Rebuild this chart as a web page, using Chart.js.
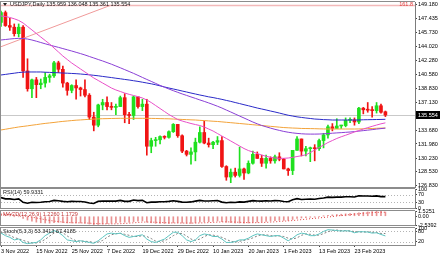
<!DOCTYPE html>
<html>
<head>
<meta charset="utf-8">
<script src="https://cdn.jsdelivr.net/npm/chart.js@4.4.1/dist/chart.umd.min.js"></script>
<style>
html,body{margin:0;padding:0;background:#fff;}
#wrap{position:relative;width:440px;height:254px;overflow:hidden;background:#fff}
#wrap canvas{position:absolute;left:0;top:0}
</style>
</head>
<body>
<div id="wrap">
<canvas id="cMain" width="440" height="254"></canvas>
<canvas id="cRsi" width="440" height="254"></canvas>
<canvas id="cMacd" width="440" height="254"></canvas>
<canvas id="cStoch" width="440" height="254"></canvas>
</div>
<script>
// ---------------- DATA ----------------
const symbolTitle = 'USDJPY,Daily 135.959 136.048 135.361 135.554';
const dateTickBars = [0, 8, 16, 24, 32, 40, 48, 56, 64, 72, 80];
const dateTickLabels = ['3 Nov 2022','15 Nov 2022','25 Nov 2022','7 Dec 2022','19 Dec 2022','29 Dec 2022','10 Jan 2023','20 Jan 2023','1 Feb 2023','13 Feb 2023','23 Feb 2023'];
const priceTicks = [149.180,147.435,145.730,144.020,142.280,140.580,138.830,137.130,133.680,131.980,130.230,128.530,126.830];
const lastPrice = 135.554;
const fibLevel = 149.08;
const fibLabel = '161.8';
const fibTrend = [{x:-0.2, y:143.95},{x:24.7, y:149.08}];

const open = [
147.0,148.2,146.6,146.4,145.6,146.4,141.0,138.8,139.9,139.3,
139.5,140.2,140.4,142.0,141.2,139.5,138.6,139.2,138.9,138.7,
138.0,135.3,134.3,136.8,137.1,136.6,136.5,136.6,137.7,135.6,
135.5,137.8,136.6,136.9,131.7,132.4,132.5,132.9,132.8,133.5,
134.4,133.0,131.1,130.7,131.0,132.2,133.4,132.1,131.9,132.2,
132.4,129.2,127.9,128.5,128.1,128.9,128.4,129.6,130.7,130.2,
129.6,130.2,129.9,130.4,130.1,128.9,128.7,131.2,132.6,131.1,
131.4,131.5,131.4,132.4,133.1,134.1,133.9,134.2,134.25,134.9,
134.95,134.7,136.4,136.2,136.15,136.1,136.7,135.959];
const high = [
148.4,148.4,147.5,146.8,146.8,146.6,142.5,140.0,140.2,140.0,
140.8,140.6,142.2,142.2,141.6,139.6,139.3,139.9,139.0,139.9,
138.2,135.9,136.9,137.5,137.8,137.1,136.9,137.9,138.2,135.9,
137.9,137.8,137.5,137.5,132.7,132.8,133.0,133.0,133.6,134.5,
134.4,133.1,131.2,131.5,132.7,134.1,134.8,132.7,132.3,132.9,
132.9,129.3,128.9,129.0,131.6,129.0,129.9,131.1,131.0,130.6,
130.6,130.4,130.6,130.9,130.2,129.0,131.2,132.9,132.6,131.7,
131.6,131.9,132.6,133.3,134.3,134.5,135.1,134.3,135.2,135.2,
135.2,136.5,136.5,137.1,136.6,137.1,136.9,136.048];
const low = [
146.5,146.5,146.0,145.3,145.2,140.2,138.5,137.7,137.7,138.8,
139.0,139.6,140.2,140.8,139.0,138.0,138.3,137.5,137.9,137.8,
135.0,133.6,134.1,136.2,136.2,136.2,135.6,136.6,134.6,134.5,
135.0,136.4,136.1,130.6,130.9,131.7,132.0,132.6,132.7,133.4,
132.8,130.9,130.5,129.5,129.9,132.1,132.0,131.6,131.4,131.9,
129.1,127.5,127.2,127.9,127.9,127.6,128.3,129.5,130.2,129.2,
129.0,129.6,129.6,129.9,128.9,128.1,128.2,131.2,130.5,130.5,
129.8,129.9,131.2,131.5,132.7,133.6,133.9,133.9,134.1,134.6,
134.3,134.5,135.7,135.9,135.3,135.8,135.8,135.361];
const close = [
148.2,146.6,146.4,145.6,146.4,141.0,138.8,139.9,139.3,139.5,
140.2,140.4,142.0,141.2,139.5,138.6,139.2,138.9,138.7,138.0,
135.3,134.3,136.8,137.1,136.6,136.5,136.6,137.7,135.6,135.5,
137.8,136.6,136.9,131.7,132.4,132.5,132.9,132.8,133.5,134.4,
133.0,131.1,130.7,131.0,132.2,133.4,132.1,131.9,132.2,132.4,
129.2,127.9,128.5,128.1,128.9,128.4,129.6,130.7,130.2,129.6,
130.2,129.9,130.4,130.1,128.9,128.7,131.2,132.6,131.1,131.4,
131.5,131.4,132.4,133.1,134.1,133.9,134.2,134.25,134.9,134.95,
134.7,136.4,136.2,136.15,136.1,136.7,135.9,135.554];

const ma20 = [
147.78,147.72,147.60,147.44,147.23,146.92,146.49,146.06,145.62,145.19,
144.76,144.33,143.83,143.34,142.84,142.41,141.98,141.61,141.24,140.87,
140.50,140.13,139.82,139.51,139.20,138.89,138.65,138.46,138.27,138.11,
137.97,137.82,137.66,137.41,137.10,136.73,136.36,135.99,135.62,135.31,
135.00,134.82,134.66,134.51,134.38,134.26,134.08,133.83,133.58,133.27,
132.96,132.66,132.35,132.04,131.73,131.42,131.17,130.99,130.80,130.62,
130.46,130.33,130.25,130.21,130.21,130.25,130.33,130.43,130.53,130.64,
130.92,131.24,131.54,131.85,132.16,132.41,132.66,132.87,133.06,133.26,
133.46,133.64,133.83,134.00,134.16,134.32,134.47,134.59];
const ma50 = [
144.82,144.88,144.94,144.99,145.02,145.00,144.94,144.82,144.67,144.51,
144.35,144.20,144.05,143.91,143.76,143.61,143.46,143.30,143.14,142.97,
142.78,142.60,142.41,142.23,142.03,141.83,141.61,141.39,141.16,140.93,
140.70,140.45,140.20,139.95,139.71,139.46,139.21,138.99,138.77,138.56,
138.36,138.16,137.98,137.79,137.61,137.42,137.24,137.05,136.85,136.64,
136.42,136.17,135.93,135.68,135.43,135.19,134.94,134.69,134.47,134.27,
134.10,133.94,133.79,133.66,133.53,133.43,133.35,133.29,133.24,133.21,
133.20,133.20,133.21,133.24,133.27,133.31,133.35,133.38,133.42,133.46,
133.51,133.57,133.63,133.69,133.75,133.82,133.88,133.94];
const ma100 = [
140.50,140.57,140.65,140.72,140.80,140.85,140.87,140.87,140.87,140.87,
140.84,140.82,140.79,140.77,140.74,140.72,140.69,140.66,140.62,140.57,
140.52,140.46,140.40,140.32,140.25,140.18,140.10,140.03,139.95,139.88,
139.79,139.71,139.61,139.51,139.41,139.29,139.16,139.02,138.89,138.77,
138.65,138.52,138.40,138.27,138.15,138.03,137.92,137.80,137.71,137.60,
137.49,137.36,137.24,137.10,136.97,136.83,136.70,136.56,136.42,136.30,
136.18,136.05,135.93,135.80,135.66,135.53,135.43,135.33,135.26,135.19,
135.13,135.06,135.03,134.99,134.97,134.94,134.94,134.94,134.94,134.94,
134.94,134.94,134.97,134.98,134.99,135.00,135.01,135.03];
const ma200 = [
133.71,133.80,133.90,133.99,134.08,134.15,134.22,134.30,134.37,134.45,
134.52,134.58,134.64,134.71,134.77,134.82,134.87,134.92,134.95,134.99,
135.03,135.05,135.08,135.10,135.11,135.13,135.14,135.15,135.15,135.15,
135.15,135.15,135.15,135.15,135.14,135.13,135.11,135.10,135.09,135.06,
135.04,135.01,134.99,134.96,134.94,134.90,134.87,134.83,134.79,134.76,
134.71,134.66,134.61,134.56,134.51,134.46,134.41,134.36,134.31,134.26,
134.21,134.16,134.11,134.06,134.01,133.98,133.95,133.93,133.90,133.89,
133.88,133.87,133.85,133.84,133.83,133.83,133.83,133.83,133.83,133.83,
133.83,133.84,133.85,133.88,133.89,133.92,133.94,133.95];

const rsi = [
55,48,48,45,48,30,25,30,29,30,
33,34,40,38,35,33,35,34,34,32,
26,24,35,37,36,36,36,40,35,35,
42,39,40,28,31,31,33,33,35,38,
35,31,30,32,36,40,37,37,38,39,
31,28,30,29,32,31,35,39,37,36,
38,37,39,38,34,33,43,49,45,46,
47,46,50,53,57,56,57,57,59,59,
58,64,63,63,62,64,60,59.93];
const rsiLevels = [30, 70];
const rsiTicks = [0, 30, 70, 100];

const macdMain = [
0.35,0.2,0.08,-0.1,-0.15,-0.6,-1.1,-1.4,-1.7,-1.9,
-1.95,-2.0,-1.85,-1.8,-1.85,-1.95,-1.95,-1.95,-1.95,-2.0,
-2.25,-2.5392,-2.4,-2.25,-2.15,-2.05,-1.95,-1.75,-1.75,-1.75,
-1.55,-1.45,-1.35,-1.7,-1.9,-2.05,-2.1,-2.1,-2.05,-1.9,
-1.85,-1.95,-2.05,-2.05,-1.9,-1.7,-1.65,-1.6,-1.5,-1.4,
-1.55,-1.75,-1.85,-1.95,-1.95,-2.0,-1.95,-1.8,-1.7,-1.65,
-1.5,-1.4,-1.3,-1.2,-1.2,-1.2,-0.95,-0.65,-0.5,-0.4,
-0.3,-0.25,-0.1,0.05,0.25,0.4,0.5,0.6,0.7,0.8,
0.85,1.0,1.15,1.25,1.38,1.5251,1.4,1.226];
const macdSignal = [
0.6,0.55,0.48,0.4,0.3,0.15,-0.05,-0.25,-0.5,-0.75,
-1.0,-1.2,-1.4,-1.55,-1.7,-1.8,-1.88,-1.9,-1.92,-1.95,
-2.0,-2.1,-2.15,-2.2,-2.22,-2.22,-2.2,-2.15,-2.08,-2.0,
-1.9,-1.8,-1.7,-1.68,-1.7,-1.75,-1.8,-1.85,-1.92,-1.95,
-1.96,-1.97,-1.98,-1.98,-1.97,-1.95,-1.9,-1.85,-1.78,-1.7,
-1.65,-1.63,-1.65,-1.7,-1.75,-1.8,-1.85,-1.87,-1.85,-1.82,
-1.77,-1.7,-1.62,-1.52,-1.42,-1.35,-1.25,-1.12,-0.98,-0.85,
-0.72,-0.6,-0.48,-0.35,-0.22,-0.08,0.08,0.22,0.35,0.48,
0.6,0.72,0.85,0.95,1.05,1.12,1.16,1.1729];
const macdTicks = [-2.5392, 0, 1.5251];

const stochK = [
70,55,45,30,35,15,8,12,15,30,
55,70,85,75,55,30,25,20,25,20,
15,10,25,45,65,70,65,70,55,45,
50,55,60,35,20,15,25,35,55,75,
75,55,30,20,30,55,65,60,50,50,
35,15,15,20,30,30,40,55,65,60,
55,50,55,55,40,25,40,60,70,65,
55,55,65,80,90,88,85,82,84,82,
72,78,78,76,70,72,62,53.3413];
const stochD = [
75,65,57,43,37,27,19,12,12,19,
33,52,70,77,72,53,37,25,23,22,
20,15,17,27,45,60,67,68,63,57,
50,50,55,50,38,23,20,25,38,55,
68,68,53,35,27,35,50,60,58,53,
45,33,22,17,22,27,33,42,53,60,
60,55,53,53,50,40,35,42,57,65,
63,58,58,67,78,86,88,85,84,83,
79,77,76,77,75,73,68,67.4185];
const stochLevels = [20, 80];
const stochTicks = [20, 80, 100];

// ---------------- LAYOUT / STYLE ----------------
const AXIS_W = 25;
const X_MIN = 0.0, X_MAX = 93.7;
const FONT = "'Liberation Sans', Arial, sans-serif";
const FS = 5.5;
const UP = '#1fe01f', DOWN = '#f01414';

Chart.defaults.font.family = FONT;
Chart.defaults.font.size = FS;
Chart.defaults.color = '#000';
Chart.defaults.animation = false;
Chart.defaults.events = [];
Chart.defaults.plugins.legend.display = false;
Chart.defaults.plugins.tooltip.enabled = false;

const pts = arr => arr.map((v, i) => ({x: i, y: v}));

function xHidden() {
  return {type: 'linear', min: X_MIN, max: X_MAX, offset: false, display: false};
}
function yAxis(min, max, ticks, fmt) {
  return {
    position: 'right', min: min, max: max,
    afterBuildTicks: s => { s.ticks = ticks.map(v => ({value: v})); },
    afterFit: s => { s.width = AXIS_W; s.paddingTop = 0; s.paddingBottom = 0; },
    ticks: {callback: fmt, autoSkip: false, padding: 1, font: {size: FS, family: FONT}, color: '#000'},
    grid: {drawOnChartArea: false, drawTicks: true, tickLength: 2, tickColor: '#444'},
    border: {display: true, color: '#7c7c7c', width: 1}
  };
}

const framePlugin = {
  id: 'frame',
  afterDraw(chart) {
    const {ctx, chartArea: a} = chart;
    ctx.save();
    ctx.strokeStyle = '#8c8c8c';
    ctx.lineWidth = 1;
    ctx.beginPath();
    ctx.moveTo(a.left - 0.5, Math.round(a.top) - 0.5);
    ctx.lineTo(a.right, Math.round(a.top) - 0.5);
    ctx.moveTo(a.left - 0.5, Math.round(a.bottom) + 0.5);
    ctx.lineTo(a.right, Math.round(a.bottom) + 0.5);
    ctx.moveTo(a.left - 0.5, a.top - 1);
    ctx.lineTo(a.left - 0.5, a.bottom + 1);
    ctx.stroke();
    ctx.restore();
  }
};

const levelPlugin = {
  id: 'levels',
  beforeDatasetsDraw(chart, args, o) {
    if (!o || !o.values) return;
    const {ctx, chartArea: a, scales: {y}} = chart;
    ctx.save();
    ctx.strokeStyle = o.color || '#aaa';
    ctx.lineWidth = 1;
    ctx.setLineDash(o.dash || [1, 2]);
    o.values.forEach(v => {
      const py = Math.round(y.getPixelForValue(v)) + 0.5;
      ctx.beginPath(); ctx.moveTo(a.left, py); ctx.lineTo(a.right, py); ctx.stroke();
    });
    ctx.restore();
  }
};

const textPlugin = {
  id: 'texts',
  afterDraw(chart, args, o) {
    if (!o || !o.items) return;
    const ctx = chart.ctx;
    ctx.save();
    o.items.forEach(t => {
      ctx.font = (t.size || FS) + 'px ' + FONT;
      ctx.fillStyle = t.color || '#000';
      ctx.textBaseline = 'middle';
      ctx.textAlign = t.align || 'left';
      ctx.fillText(t.text, t.x, t.y);
    });
    ctx.restore();
  }
};

const pricePlugin = {
  id: 'price',
  beforeDatasetsDraw(chart) {
    const {ctx, chartArea: a, scales: {y}} = chart;
    ctx.save();
    const fy = y.getPixelForValue(fibLevel);
    ctx.strokeStyle = '#f3b9b9'; ctx.lineWidth = 1.5;
    ctx.beginPath(); ctx.moveTo(a.left, fy); ctx.lineTo(a.right, fy); ctx.stroke();
    const py = Math.round(y.getPixelForValue(lastPrice)) + 0.5;
    ctx.strokeStyle = '#c9c9c9'; ctx.lineWidth = 1;
    ctx.beginPath(); ctx.moveTo(a.left, py); ctx.lineTo(a.right, py); ctx.stroke();
    ctx.restore();
  },
  afterDraw(chart) {
    const {ctx, chartArea: a, scales: {y}} = chart;
    ctx.save();
    const py = y.getPixelForValue(lastPrice);
    ctx.fillStyle = '#000';
    ctx.fillRect(a.right + 1, Math.round(py) - 4, 24, 8);
    ctx.fillStyle = '#fff';
    ctx.font = FS + 'px ' + FONT;
    ctx.textBaseline = 'middle';
    ctx.textAlign = 'left';
    ctx.fillText(lastPrice.toFixed(3), a.right + 3, py);
    ctx.fillStyle = '#e04040';
    ctx.textAlign = 'right';
    ctx.fillText(fibLabel, a.right - 2, y.getPixelForValue(fibLevel) - 1);
    ctx.fillStyle = '#222';
    ctx.beginPath(); ctx.moveTo(3, 3); ctx.lineTo(7, 3); ctx.lineTo(5, 6); ctx.closePath(); ctx.fill();
    ctx.restore();
  }
};

// ---------------- MAIN CHART ----------------
const idx = close.map((c, i) => i);
const candleColors = idx.map(i => close[i] >= open[i] ? UP : DOWN);

new Chart(document.getElementById('cMain'), {
  type: 'bar',
  data: {
    datasets: [
      {type: 'line', data: pts(ma20), borderColor: '#e84fc8', borderWidth: 1, pointRadius: 0, tension: 0, order: 1},
      {type: 'line', data: pts(ma50), borderColor: '#8a3fd6', borderWidth: 1, pointRadius: 0, tension: 0, order: 1},
      {type: 'line', data: pts(ma100), borderColor: '#2a2ac8', borderWidth: 1, pointRadius: 0, tension: 0, order: 1},
      {type: 'line', data: pts(ma200), borderColor: '#f3a33a', borderWidth: 1, pointRadius: 0, tension: 0, order: 1},
      {type: 'line', data: fibTrend, borderColor: '#f09a9a', borderWidth: 1, pointRadius: 0, tension: 0, order: 2},
      {type: 'bar', data: idx.map(i => ({x: i, y: [open[i], close[i]]})), backgroundColor: candleColors,
        barThickness: 3, minBarLength: 1, grouped: false, borderWidth: 0, order: 3},
      {type: 'bar', data: idx.map(i => ({x: i, y: [low[i], high[i]]})), backgroundColor: candleColors,
        barThickness: 1, grouped: false, borderWidth: 0, order: 4}
    ]
  },
  options: {
    responsive: false, devicePixelRatio: 1,
    layout: {padding: {left: 1, top: 2, right: 0, bottom: 254 - 187}},
    scales: {
      x: xHidden(),
      y: yAxis(126.67, 149.51, priceTicks, v => Number(v).toFixed(3))
    },
    plugins: {
      texts: {items: [{text: symbolTitle, x: 10, y: 4.5, color: '#111'}]}
    }
  },
  plugins: [pricePlugin, framePlugin, textPlugin]
});

// ---------------- RSI ----------------
new Chart(document.getElementById('cRsi'), {
  type: 'line',
  data: {datasets: [{data: pts(rsi), borderColor: '#000', borderWidth: 1.6, pointRadius: 0, tension: 0}]},
  options: {
    responsive: false, devicePixelRatio: 1,
    layout: {padding: {left: 1, top: 189, right: 0, bottom: 254 - 208}},
    scales: {x: xHidden(), y: yAxis(0, 100, rsiTicks, v => String(v))},
    plugins: {
      levels: {values: rsiLevels, color: '#b4b4b4', dash: [1, 2]},
      texts: {items: [{text: 'RSI(14) 59.9331', x: 3, y: 192, color: '#222'}]}
    }
  },
  plugins: [levelPlugin, framePlugin, textPlugin]
});

// ---------------- MACD ----------------
new Chart(document.getElementById('cMacd'), {
  type: 'bar',
  data: {datasets: [
    {type: 'line', data: pts(macdSignal), borderColor: '#e03c3c', borderWidth: 1, borderDash: [1, 2], pointRadius: 0, tension: 0, order: 1},
    {type: 'bar', data: pts(macdMain), backgroundColor: 'rgba(226,110,110,0.75)', barThickness: 1, borderWidth: 0, grouped: false, order: 2}
  ]},
  options: {
    responsive: false, devicePixelRatio: 1,
    layout: {padding: {left: 1, top: 211, right: 0, bottom: 254 - 225}},
    scales: {x: xHidden(), y: yAxis(-2.5392, 1.5251, macdTicks, v => v === 0 ? '0.00' : Number(v).toFixed(4))},
    plugins: {
      texts: {items: [{text: 'MACD(12,26,9) 1.2260 1.1729', x: 3, y: 214, color: '#c03a3a'}]}
    }
  },
  plugins: [framePlugin, textPlugin]
});

// ---------------- STOCHASTIC ----------------
new Chart(document.getElementById('cStoch'), {
  type: 'line',
  data: {datasets: [
    {data: pts(stochK), borderColor: '#5cc4c0', borderWidth: 1, pointRadius: 0, tension: 0},
    {data: pts(stochD), borderColor: '#808080', borderWidth: 1, borderDash: [2, 2], pointRadius: 0, tension: 0}
  ]},
  options: {
    responsive: false, devicePixelRatio: 1,
    layout: {padding: {left: 1, top: 228, right: 0, bottom: 0}},
    scales: {
      x: {
        type: 'linear', min: X_MIN, max: X_MAX, offset: false, position: 'bottom',
        afterBuildTicks: s => { s.ticks = dateTickBars.map(v => ({value: v})); },
        afterFit: s => { s.height = 9; s.paddingLeft = 0; s.paddingRight = 0; },
        ticks: {callback: (v, i) => dateTickLabels[i], align: 'start', autoSkip: false, maxRotation: 0, minRotation: 0,
          padding: 1, font: {size: FS, family: FONT}, color: '#000'},
        grid: {drawOnChartArea: false, drawTicks: true, tickLength: 2, tickColor: '#444'},
        border: {display: true, color: '#7c7c7c'}
      },
      y: yAxis(0, 100, stochTicks, v => String(v))
    },
    plugins: {
      levels: {values: stochLevels, color: '#b4b4b4', dash: [1, 2]},
      texts: {items: [{text: 'Stoch(5,3,3) 53.3413 67.4185', x: 3, y: 231, color: '#222'}]}
    }
  },
  plugins: [levelPlugin, framePlugin, textPlugin]
});
</script>
</body>
</html>
